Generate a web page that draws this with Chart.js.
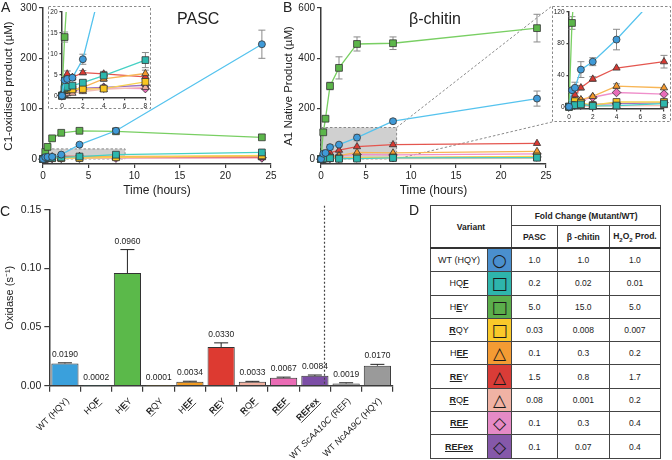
<!DOCTYPE html>
<html>
<head>
<meta charset="utf-8">
<script src="https://cdn.jsdelivr.net/npm/chart.js@4.4.1/dist/chart.umd.min.js"></script>
<style>
  body { margin: 0; background: #fff; width: 672px; height: 460px; position: relative; overflow: hidden;
         font-family: 'Liberation Sans', Arial, sans-serif; color: #222; }
  canvas { position: absolute; }
  .txt { position: absolute; line-height: 1; white-space: nowrap; }
  .panel { font-size: 14px; }
  .title { font-size: 16px; }
  #foldTable { position: absolute; left: 430px; top: 205px; border-collapse: collapse; font-size: 8.5px; }
  #foldTable td, #foldTable th { border: 1px solid #444; padding: 0; text-align: center; }
  #foldTable th { font-weight: bold; font-size: 8.5px; }
  #foldTable .icon { font-family: 'DejaVu Sans', sans-serif; font-size: 17px; color: #1a1a1a; }
  #foldTable tr.head2 th { border-bottom: 2px solid #333; height: 21px; }
  #foldTable tr.head1 th { height: 19px; }
  #foldTable tr.row td { height: 22.3px; }
</style>
</head>
<body>
<canvas id="chartA" width="290" height="200" style="left:0;top:0"></canvas>
<canvas id="insetA" width="103" height="103" style="left:48px;top:6px"></canvas>
<canvas id="chartB" width="392" height="200" style="left:280px;top:0"></canvas>
<canvas id="insetB" width="119" height="116" style="left:552px;top:6px"></canvas>
<canvas id="chartC" width="420" height="260" style="left:0;top:200px"></canvas>

<div class="txt panel" style="left:1px;top:0">A</div>
<div class="txt panel" style="left:283px;top:0">B</div>
<div class="txt panel" style="left:0;top:204px">C</div>
<div class="txt panel" style="left:409px;top:203px">D</div>
<div class="txt title" style="left:177px;top:11px">PASC</div>
<div class="txt title" style="left:409px;top:11px">β-chitin</div>

<table id="foldTable"></table>

<script>
// ---- data ----
const timeHours = [0, 0.25, 0.5, 1, 2, 4, 8, 24];
const variants = ['WT (HQY)', 'HQ[F]', 'H[E]Y', '[R]QY', 'H[EF]', '[RE]Y', '[R]Q[F]', '[REF]', '[REFex]'];

// PASC, C1-oxidised product (uM), one row per variant
const pascProduct = [
  [0, 3.7, 4.0, 4.3, 8.7, 28.5, 56, 228],
  [0, 1.8, 2.1, 2.4, 3.1, 4.8, 8.5, 13],
  [0, 14, 24, 41, 52, 56, 55, 43],
  [0, 1.5, 1.5, 1.5, 1.6, 1.7, 3.3, 7],
  [0, 1.0, 1.2, 1.4, 2.0, 4.0, 5.3, 6],
  [0, 4.0, 5.2, 4.4, 5.5, 5.2, 4.5, 3.5],
  [0, 0.3, 0.5, 0.6, 1.0, 1.5, 2.0, 2.5],
  [0, 0.8, 1.0, 1.2, 1.5, 1.8, 1.7, 2.0],
  [0, 1.0, 1.2, 1.5, 1.8, 2.0, 2.5, 3.0]
];
const pascError = [
  [0, 0.4, 0.5, 0.6, 1.2, 2.5, 3, 28],
  [0, 0.3, 0.3, 0.4, 0.5, 0.8, 1.8, 1.5],
  [0, 1.2, 1.5, 2, 2, 2, 2, 2],
  [0, 0.3, 0.3, 0.3, 0.3, 0.3, 0.6, 0.8],
  [0, 0.3, 0.3, 0.3, 0.4, 0.6, 0.8, 0.8],
  [0, 0.6, 0.7, 0.5, 0.5, 0.6, 0.6, 0.6],
  [0, 0.2, 0.2, 0.2, 0.3, 0.3, 0.3, 0.3],
  [0, 0.2, 0.2, 0.2, 0.3, 0.3, 0.3, 0.3],
  [0, 0.2, 0.2, 0.2, 0.3, 0.3, 0.3, 0.3]
];

// beta-chitin, A1 native product (uM)
const chitinProduct = [
  [0, 21, 24, 47, 57, 85, 150, 240],
  [0, 2, 2, 3, 1, 1.5, 4, 5],
  [0, 106, 160, 290, 362, 457, 460, 520],
  [0, 5, 7, 5, 2, 6, 6, 10],
  [0, 5, 7, 9, 13, 26, 24, 30],
  [0, 10, 15, 24, 35, 49, 57, 62],
  [0, 0.5, 0.5, 0.5, 0.8, 1, 1.5, 2],
  [0, 3, 5, 8, 12, 18, 16, 20],
  [0, 1, 2, 2, 3, 4, 5, 8]
];
const chitinError = [
  [0, 3, 7, 10, 5, 13, 8, 30],
  [0, 0.5, 0.5, 0.5, 0.5, 0.5, 1, 1],
  [0, 8, 10, 15, 44, 28, 25, 55],
  [0, 1, 1, 1, 1, 1, 1, 1],
  [0, 1, 1, 1, 2, 3, 2, 2],
  [0, 2, 3, 3, 3, 2, 8, 3],
  [0, 0.3, 0.3, 0.3, 0.3, 0.3, 0.3, 0.3],
  [0, 1, 1, 1, 1, 2, 2, 2],
  [0, 0.5, 0.5, 0.5, 0.5, 1, 1, 1]
];

const pascTicks = [0, 100, 200, 300];
const chitinTicks = [0, 200, 400, 600];
const hourTicks = [0, 5, 10, 15, 20, 25];
const insetHourTicks = [0, 2, 4, 6, 8];
const pascInsetTicks = [0, 5, 10, 15, 20];
const chitinInsetTicks = [0, 40, 80, 120];
const pascZoomRange = [9, 20];      // hours, uM
const chitinZoomRange = [8.4, 125];

// panel C
const oxidaseLabels = ['WT (HQY)', 'HQ[F]', 'H[E]Y', '[R]QY', 'H[EF]', '[RE]Y', '[R]Q[F]', '[REF]', '[REFex]',
                       'WT {ScAA10C} (REF)', 'WT {NcAA9C} (HQY)'];
const oxidaseRate = [0.0190, 0.0002, 0.0960, 0.0001, 0.0034, 0.0330, 0.0033, 0.0067, 0.0084, 0.0019, 0.0170];
const oxidaseError = [0.0005, 0, 0.020, 0, 0.0004, 0.0035, 0.0004, 0.0006, 0.0007, 0.0006, 0.0012];
const oxidaseTicks = [0, 0.05, 0.10, 0.15];

// panel D
const foldPASC = ['1.0', '0.2', '5.0', '0.03', '0.1', '1.5', '0.08', '0.1', '0.1'];
const foldChitin = ['1.0', '0.02', '15.0', '0.008', '0.3', '0.8', '0.001', '0.3', '0.07'];
const foldH2O2 = ['1.0', '0.01', '5.0', '0.007', '0.2', '1.7', '0.2', '0.4', '0.4'];

// ---- styles ----
const fillColors = ['#3f9ad8', '#2db7ad', '#5cb64a', '#f8c620', '#f59a2c', '#d93a33', '#f2b0a2', '#e86db9', '#7f4fa7'];
const lineColors = ['#55c3ee', '#46d1c5', '#79cf63', '#f7d24f', '#f8b656', '#e4564f', '#f5c1b5', '#ef8fcb', '#9b72c2'];
const pointStyles = ['circle', 'rect', 'rect', 'rect', 'triangle', 'triangle', 'triangle', 'rectRot', 'rectRot'];
const pointSize = { circle: 3.5, rect: 4.8, triangle: 4.2, rectRot: 4.3 };
const barColors = ['#3aa0dc', '#2db7ad', '#5bb94a', '#f8c620', '#f29a20', '#dd3a31', '#f1b0a0', '#ea6bb5', '#7c4ea6', '#8a8a8a', '#9a9a9a'];
const iconColors = ['#4a8fce', '#2eb5ac', '#5bae4b', '#f9c92a', '#f49b33', '#d93c37', '#f0b2a4', '#e58ac6', '#8558a9'];
const iconGlyphs = ['○', '□', '□', '□', '△', '△', '△', '◇', '◇'];
const FONT = "'Liberation Sans', Arial, sans-serif";
const axisColor = '#3a3a3a';
Chart.defaults.font.family = FONT;
Chart.defaults.color = '#222';

function parseMarkup(s) {
  const segs = [];
  const re = /\[([^\]]+)\]|\{([^}]+)\}|([^\[\{]+)/g;
  let m;
  while ((m = re.exec(s))) {
    if (m[1]) segs.push({ t: m[1], b: true, u: true });
    else if (m[2]) segs.push({ t: m[2], i: true });
    else segs.push({ t: m[3] });
  }
  return segs;
}
const plain = s => parseMarkup(s).map(p => p.t).join('');

// error bars for the time courses
const errorBars = {
  id: 'errorBars',
  beforeDatasetsDraw(chart) {
    const { ctx, chartArea: a, scales: { x, y } } = chart;
    ctx.save();
    ctx.beginPath();
    ctx.rect(a.left - 6, a.top, a.width + 12, a.height + 6);
    ctx.clip();
    ctx.strokeStyle = '#8a8a8a';
    ctx.lineWidth = 1;
    chart.data.datasets.forEach(ds => {
      ds.data.forEach((p, k) => {
        const e = ds.errors[k];
        if (!e) return;
        const px = x.getPixelForValue(p.x);
        const t = y.getPixelForValue(p.y + e), b = y.getPixelForValue(p.y - e);
        if (t - b > -4) return;
        ctx.beginPath();
        ctx.moveTo(px, t); ctx.lineTo(px, b);
        ctx.moveTo(px - 3.5, t); ctx.lineTo(px + 3.5, t);
        ctx.moveTo(px - 3.5, b); ctx.lineTo(px + 3.5, b);
        ctx.stroke();
      });
    });
    ctx.restore();
  }
};

// grey zoom region, optionally with connectors to the inset canvas
const zoomBox = {
  id: 'zoomBox',
  beforeDatasetsDraw(chart, args, opts) {
    const { ctx, scales: { x, y } } = chart;
    const x0 = x.getPixelForValue(0), x1 = x.getPixelForValue(opts.range[0]);
    const y0 = y.getPixelForValue(0), y1 = y.getPixelForValue(opts.range[1]);
    ctx.save();
    ctx.fillStyle = 'rgba(170,170,170,0.55)';
    ctx.fillRect(x0, y1, x1 - x0, y0 - y1);
    ctx.setLineDash([2.5, 2]);
    ctx.strokeStyle = '#8a8a8a';
    ctx.lineWidth = 1;
    ctx.strokeRect(x0, y1, x1 - x0, y0 - y1);
    if (opts.inset) {
      const ins = document.getElementById(opts.inset);
      const ix = ins.offsetLeft - chart.canvas.offsetLeft, iy = ins.offsetTop - chart.canvas.offsetTop;
      ctx.beginPath();
      ctx.moveTo(x1, y1); ctx.lineTo(ix, iy);
      ctx.moveTo(x1, y0); ctx.lineTo(ix, iy + ins.height);
      ctx.stroke();
    }
    ctx.restore();
  }
};

// dashed frame around an inset
const insetFrame = {
  id: 'insetFrame',
  afterDraw(chart) {
    const { ctx, width, height } = chart;
    ctx.save();
    ctx.setLineDash([2.5, 2]);
    ctx.strokeStyle = '#8a8a8a';
    ctx.lineWidth = 1;
    ctx.strokeRect(0.5, 0.5, width - 1, height - 1);
    ctx.restore();
  }
};

function timeDatasets(values, errors, maxHour) {
  return variants.map((name, i) => {
    const keep = timeHours.map((t, k) => k).filter(k => timeHours[k] <= maxHour);
    return {
      label: plain(name),
      data: keep.map(k => ({ x: timeHours[k], y: values[i][k] })),
      errors: keep.map(k => errors[i][k]),
      borderColor: lineColors[i],
      backgroundColor: fillColors[i],
      pointBackgroundColor: fillColors[i],
      pointBorderColor: '#333',
      pointBorderWidth: 0.8,
      pointStyle: pointStyles[i],
      pointRadius: pointSize[pointStyles[i]],
      borderWidth: 1.3,
      tension: 0,
      clip: maxHour < 24 ? { left: 6, right: 6, top: 0, bottom: 6 } : 8
    };
  });
}

function axis(min, max, tickList, fontSize, tickLen, fit) {
  return {
    type: 'linear', min, max,
    afterBuildTicks: s => { s.ticks = tickList.map(v => ({ value: v })); },
    ticks: { font: { size: fontSize }, color: '#222', padding: 2 },
    grid: { drawOnChartArea: false, tickLength: tickLen, color: axisColor, lineWidth: 1.2 },
    border: { color: axisColor, width: 1.5 },
    afterFit: fit
  };
}

function timeChart(id, values, errors, o) {
  const x = axis(0, o.xMax, o.xTicks, o.font, o.tick, s => { s.height = o.xH; });
  const y = axis(o.yMin, o.yMax, o.yTicks, o.font, o.tick, s => { s.width = o.yW; });
  if (o.yTitle) {
    x.title = { display: true, text: 'Time (hours)', font: { size: 12 }, color: '#222', padding: { top: 0, bottom: 2 } };
    y.title = { display: true, text: o.yTitle, font: { size: 11.5 }, color: '#222', padding: { top: 2, bottom: 0 } };
  }
  return new Chart(document.getElementById(id), {
    type: 'line',
    data: { datasets: timeDatasets(values, errors, o.maxHour) },
    options: {
      responsive: false, animation: false,
      layout: { padding: o.pad },
      plugins: { legend: { display: false }, tooltip: { enabled: false }, zoomBox: o.zoom || false },
      scales: { x, y }
    },
    plugins: o.zoom ? [errorBars, zoomBox] : [errorBars, insetFrame]
  });
}

timeChart('chartA', pascProduct, pascError, {
  xMax: 25, xTicks: hourTicks, yMin: -10, yMax: 300, yTicks: pascTicks, font: 10, tick: 4,
  xH: 36, yW: 43, pad: { top: 8, right: 19, left: 0, bottom: 0 }, maxHour: 24,
  yTitle: 'C1-oxidised product (µM)', zoom: { range: pascZoomRange }
});
timeChart('insetA', pascProduct, pascError, {
  xMax: 8, xTicks: insetHourTicks, yMin: -0.5, yMax: 20, yTicks: pascInsetTicks, font: 6.5, tick: 2.5,
  xH: 11.2, yW: 14, pad: { top: 5, right: 5.3, left: 0, bottom: 0 }, maxHour: 8
});
timeChart('chartB', chitinProduct, chitinError, {
  xMax: 25, xTicks: hourTicks, yMin: -20, yMax: 600, yTicks: chitinTicks, font: 10, tick: 4,
  xH: 36, yW: 41, pad: { top: 8, right: 126, left: 0, bottom: 0 }, maxHour: 24,
  yTitle: 'A1 Native Product (µM)', zoom: { range: chitinZoomRange, inset: 'insetB' }
});
timeChart('insetB', chitinProduct, chitinError, {
  xMax: 8, xTicks: insetHourTicks, yMin: -3, yMax: 120, yTicks: chitinInsetTicks, font: 6.5, tick: 2.5,
  xH: 12.9, yW: 17, pad: { top: 4.7, right: 7, left: 0, bottom: 0 }, maxHour: 8
});

// ---- panel C ----
const barDecor = {
  id: 'barDecor',
  afterDatasetsDraw(chart) {
    const { ctx, chartArea: a, scales: { x, y } } = chart;
    const meta = chart.getDatasetMeta(0);
    ctx.save();
    ctx.strokeStyle = '#222';
    ctx.fillStyle = '#222';
    ctx.lineWidth = 1;
    ctx.font = '8.5px ' + FONT;
    ctx.textAlign = 'center';
    ctx.textBaseline = 'bottom';
    meta.data.forEach((bar, i) => {
      const v = oxidaseRate[i], e = oxidaseError[i];
      let top = bar.y;
      if (e) {
        const ey = y.getPixelForValue(v + e);
        ctx.beginPath();
        ctx.moveTo(bar.x, bar.y); ctx.lineTo(bar.x, ey);
        ctx.moveTo(bar.x - 7, ey); ctx.lineTo(bar.x + 7, ey);
        ctx.stroke();
        top = ey;
      }
      ctx.fillText(v.toFixed(4), bar.x, top - 4);
    });
    // separator between variants and reference enzymes
    const sx = (x.getPixelForTick(8) + x.getPixelForTick(9)) / 2 - 6;
    ctx.setLineDash([2, 2]);
    ctx.lineWidth = 1.2;
    ctx.strokeStyle = '#444';
    ctx.beginPath();
    ctx.moveTo(sx, a.top - 4); ctx.lineTo(sx, a.bottom);
    ctx.stroke();
    ctx.restore();
  },
  afterDraw(chart) {
    const { ctx, chartArea: a, scales: { x } } = chart;
    ctx.save();
    ctx.fillStyle = '#222';
    ctx.strokeStyle = '#222';
    ctx.lineWidth = 0.8;
    ctx.textBaseline = 'middle';
    ctx.textAlign = 'left';
    const fontFor = s => (s.i ? 'italic ' : '') + (s.b ? 'bold ' : '') + '9px ' + FONT;
    oxidaseLabels.forEach((lab, i) => {
      const segs = parseMarkup(lab);
      let total = 0;
      segs.forEach(s => { ctx.font = fontFor(s); s.w = ctx.measureText(s.t).width; total += s.w; });
      ctx.save();
      ctx.translate(x.getPixelForTick(i) + 3, a.bottom + 14);
      ctx.rotate(-Math.PI / 4);
      let cx = -total;
      segs.forEach(s => {
        ctx.font = fontFor(s);
        ctx.fillText(s.t, cx, 0);
        if (s.u) {
          ctx.beginPath();
          ctx.moveTo(cx, 4.5); ctx.lineTo(cx + s.w, 4.5);
          ctx.stroke();
        }
        cx += s.w;
      });
      ctx.restore();
    });
    ctx.restore();
  }
};

new Chart(document.getElementById('chartC'), {
  type: 'bar',
  data: {
    labels: oxidaseLabels.map(plain),
    datasets: [{
      data: oxidaseRate,
      backgroundColor: barColors,
      borderColor: '#333',
      borderWidth: 1,
      barPercentage: 0.87,
      categoryPercentage: 1
    }]
  },
  options: {
    responsive: false, animation: false,
    layout: { padding: { top: 9.7, right: 27, left: 0, bottom: 0 } },
    plugins: { legend: { display: false }, tooltip: { enabled: false } },
    scales: {
      x: {
        ticks: { display: false },
        grid: { drawOnChartArea: false, tickLength: 6, color: axisColor, lineWidth: 1.2 },
        border: { color: axisColor, width: 1.5 },
        afterFit: s => { s.height = 74.3; }
      },
      y: {
        min: 0, max: 0.15,
        afterBuildTicks: s => { s.ticks = oxidaseTicks.map(v => ({ value: v })); },
        ticks: { font: { size: 10.5 }, color: '#222', padding: 3, callback: v => v.toFixed(2) },
        grid: { drawOnChartArea: false, tickLength: 5, color: axisColor, lineWidth: 1.2 },
        border: { color: axisColor, width: 1.5 },
        title: { display: true, text: 'Oxidase (s⁻¹)', font: { size: 11 }, color: '#222', padding: { top: 3, bottom: 0 } },
        afterFit: s => { s.width = 49.3; }
      }
    }
  },
  plugins: [barDecor]
});

// ---- panel D ----
function markupHtml(s) {
  return parseMarkup(s).map(p => p.b ? '<b><u>' + p.t + '</u></b>' : p.i ? '<i>' + p.t + '</i>' : p.t).join('');
}
const widths = [57, 24, 46, 51.6, 51.7];
let html = '<colgroup>' + widths.map(w => '<col style="width:' + w + 'px">').join('') + '</colgroup>';
html += '<tr class="head1"><th rowspan="2" colspan="2" style="border-bottom:2px solid #333">Variant</th>' +
        '<th colspan="3">Fold Change (Mutant/WT)</th></tr>';
html += '<tr class="head2"><th>PASC</th><th>β -chitin</th><th>H<sub style="font-size:6px">2</sub>O<sub style="font-size:6px">2</sub> Prod.</th></tr>';
variants.forEach((v, i) => {
  html += '<tr class="row"><td style="font-size:9px">' + markupHtml(v) + '</td>' +
          '<td class="icon" style="background:' + iconColors[i] + '">' + iconGlyphs[i] + '</td>' +
          '<td>' + foldPASC[i] + '</td><td>' + foldChitin[i] + '</td><td>' + foldH2O2[i] + '</td></tr>';
});
document.getElementById('foldTable').innerHTML = html;
</script>
</body>
</html>
